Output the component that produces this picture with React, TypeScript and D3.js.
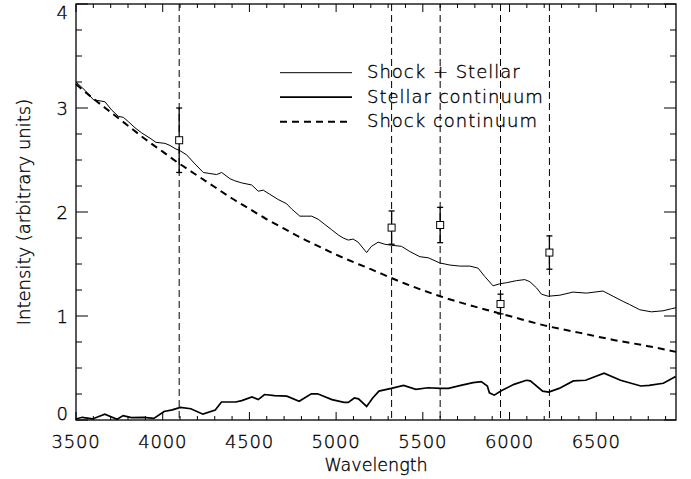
import React, { useEffect } from "react";
import * as d3 from "d3";

// ---- data ----
const shockStellarWl = [3500,3552,3600,3667,3706,3744,3773,3801,3840,3879,3927,3961,4013,4042,4071,4099,4138,4176,4234,4272,4311,4340,4388,4416,4455,4513,4551,4580,4618,4666,4714,4743,4791,4830,4859,4897,4935,4974,5012,5041,5070,5098,5127,5176,5204,5242,5281,5320,5377,5425,5483,5531,5598,5656,5713,5771,5819,5857,5905,5944,5983,6040,6088,6117,6156,6184,6223,6290,6366,6444,6539,6597,6655,6693,6751,6818,6885,6934,6960];
const shockStellarVal = [3.25,3.17,3.08,3.06,2.98,2.92,2.91,2.87,2.81,2.76,2.71,2.67,2.66,2.64,2.61,2.59,2.55,2.48,2.38,2.37,2.36,2.38,2.32,2.30,2.28,2.26,2.20,2.21,2.17,2.12,2.08,2.03,1.96,1.96,1.96,1.93,1.88,1.83,1.78,1.75,1.73,1.74,1.71,1.61,1.67,1.71,1.69,1.68,1.67,1.62,1.57,1.56,1.51,1.49,1.48,1.48,1.46,1.38,1.29,1.31,1.32,1.34,1.35,1.33,1.27,1.21,1.19,1.20,1.23,1.22,1.24,1.19,1.14,1.11,1.06,1.04,1.05,1.07,1.08];

const stellarWl = [3500,3536,3595,3666,3737,3772,3819,3890,3949,4008,4055,4102,4162,4232,4303,4339,4421,4456,4515,4551,4587,4645,4716,4787,4857,4893,4976,5046,5070,5105,5129,5176,5211,5247,5318,5389,5460,5530,5601,5648,5719,5790,5837,5872,5884,5912,5955,6026,6097,6120,6191,6226,6286,6368,6439,6545,6640,6757,6805,6887,6958];
const stellarVal = [0.010,0.026,0.010,0.056,0.007,0.042,0.023,0.026,0.016,0.082,0.098,0.121,0.108,0.056,0.095,0.173,0.173,0.186,0.222,0.196,0.245,0.235,0.229,0.180,0.252,0.252,0.196,0.170,0.170,0.212,0.203,0.131,0.212,0.278,0.304,0.333,0.294,0.310,0.304,0.304,0.333,0.359,0.369,0.327,0.261,0.239,0.284,0.343,0.382,0.376,0.278,0.268,0.304,0.376,0.382,0.451,0.382,0.327,0.333,0.353,0.418];

const shockWl = [3500,3600,3700,3800,3900,4000,4100,4200,4300,4400,4500,4600,4700,4800,4900,5000,5200,5400,5600,5800,6000,6200,6400,6600,6800,6960];
const shockVal = [3.23,3.09,2.96,2.83,2.70,2.58,2.46,2.35,2.24,2.13,2.03,1.93,1.84,1.75,1.67,1.59,1.45,1.31,1.19,1.09,1.00,0.91,0.84,0.77,0.71,0.655];

const lineWl = [4095, 5320, 5600, 5948, 6230];
const pointVal = [2.69, 1.85, 1.875, 1.115, 1.61];
const pointErr = [0.31, 0.16, 0.17, 0.095, 0.16];

const xTicks = [3500, 4000, 4500, 5000, 5500, 6000, 6500];
const yTicks = [0, 1, 2, 3, 4];
const legendLabels = ["Shock + Stellar", "Stellar continuum", "Shock continuum"];

const W = 691, H = 479;
const L = 76, R = 676, T = 4, B = 420;
const FONT = "'DejaVu Sans', 'Liberation Sans', sans-serif";
const FW = 200;
const TS = 0.35; // text stroke to darken thin glyphs

export default function App() {
  useEffect(() => {
    document.body.style.margin = "0";
  }, []);

  const x = d3.scaleLinear().domain([3500, 6960]).range([L, R]);
  const y = d3.scaleLinear().domain([0, 4]).range([B, T]);

  const mk = (wl: number[], v: number[], curve: any) =>
    d3.line<number>().x((_, i) => x(wl[i])).y((d) => y(d)).curve(curve)(v) || "";

  const pShockStellar = mk(shockStellarWl, shockStellarVal, d3.curveLinear);
  const pStellar = mk(stellarWl, stellarVal, d3.curveLinear);
  const pShock = mk(shockWl, shockVal, d3.curveMonotoneX);

  const xMinor = d3.range(3500, 6961, 100);
  const yMinor = d3.range(0, 4.001, 0.25);

  const ink = "#000";
  const textProps = { fontFamily: FONT, fontWeight: FW, fill: ink, stroke: ink, strokeWidth: TS };

  return (
    <svg width={W} height={H} style={{ position: "absolute", left: 0, top: 0, background: "#fff" }}>
      <rect x={0} y={0} width={W} height={H} fill="#fff" />
      {/* vertical dashed lines */}
      {lineWl.map((w, i) => (
        <line key={"vl" + i} x1={x(w)} x2={x(w)} y1={T} y2={B} stroke={ink} strokeWidth={1} strokeDasharray="7,4" />
      ))}
      {/* curves */}
      <path d={pShockStellar} fill="none" stroke={ink} strokeWidth={1} />
      <path d={pStellar} fill="none" stroke={ink} strokeWidth={1.7} />
      <path d={pShock} fill="none" stroke={ink} strokeWidth={2} strokeDasharray="7,5" />
      {/* data points with error bars */}
      {lineWl.map((w, i) => {
        const cx = x(w);
        const cy = y(pointVal[i]);
        const y1 = y(pointVal[i] + pointErr[i]);
        const y2 = y(pointVal[i] - pointErr[i]);
        return (
          <g key={"pt" + i} stroke={ink} strokeWidth={1.3} fill="none">
            <line x1={cx} x2={cx} y1={y1} y2={y2} />
            <line x1={cx - 3} x2={cx + 3} y1={y1} y2={y1} />
            <line x1={cx - 3} x2={cx + 3} y1={y2} y2={y2} />
            <rect x={cx - 3.5} y={cy - 3.5} width={7} height={7} fill="#fff" strokeWidth={1} />
          </g>
        );
      })}
      {/* axes box */}
      <rect x={L} y={T} width={R - L} height={B - T} fill="none" stroke={ink} strokeWidth={1.3} />
      {/* x ticks */}
      {xMinor.map((v, i) => {
        const major = xTicks.includes(v);
        const len = major ? 8 : 4;
        return (
          <g key={"xt" + i} stroke={ink} strokeWidth={1}>
            <line x1={x(v)} x2={x(v)} y1={B} y2={B - len} />
            <line x1={x(v)} x2={x(v)} y1={T} y2={T + len} />
          </g>
        );
      })}
      {/* y ticks */}
      {yMinor.map((v, i) => {
        const major = Math.abs(v - Math.round(v)) < 1e-6;
        const len = major ? 12 : 6;
        return (
          <g key={"yt" + i} stroke={ink} strokeWidth={1}>
            <line x1={L} x2={L + len} y1={y(v)} y2={y(v)} />
            <line x1={R} x2={R - len} y1={y(v)} y2={y(v)} />
          </g>
        );
      })}
      {/* x tick labels */}
      {xTicks.map((v) => (
        <text key={"xl" + v} x={x(v)} y={448} textAnchor="middle" fontSize={18} letterSpacing={0.8} {...textProps}>
          {v}
        </text>
      ))}
      {/* y tick labels */}
      {yTicks.map((v) => {
        let by = y(v) + 6.5;
        if (v === 0) by = B;
        if (v === 4) by = T + 15;
        return (
          <text key={"yl" + v} x={68} y={by} textAnchor="end" fontSize={18} {...textProps}>
            {v}
          </text>
        );
      })}
      {/* axis titles */}
      <text x={(L + R) / 2} y={471} textAnchor="middle" fontSize={17.5} {...textProps}>
        Wavelength
      </text>
      <text
        transform={`translate(30, ${(T + B) / 2}) rotate(-90)`}
        textAnchor="middle"
        fontSize={18}
        {...textProps}
      >
        Intensity (arbitrary units)
      </text>
      {/* legend */}
      {legendLabels.map((lab, i) => {
        const ly = 72.7 + i * 24.5;
        const sw = i === 0 ? 1 : i === 1 ? 1.7 : 2;
        return (
          <g key={"lg" + i}>
            <line x1={280} x2={352} y1={ly} y2={ly} stroke={ink} strokeWidth={sw} strokeDasharray={i === 2 ? "7,5" : undefined} />
            <text x={367} y={ly + 5.5} fontSize={18} letterSpacing={1} {...textProps}>
              {lab}
            </text>
          </g>
        );
      })}
    </svg>
  );
}
